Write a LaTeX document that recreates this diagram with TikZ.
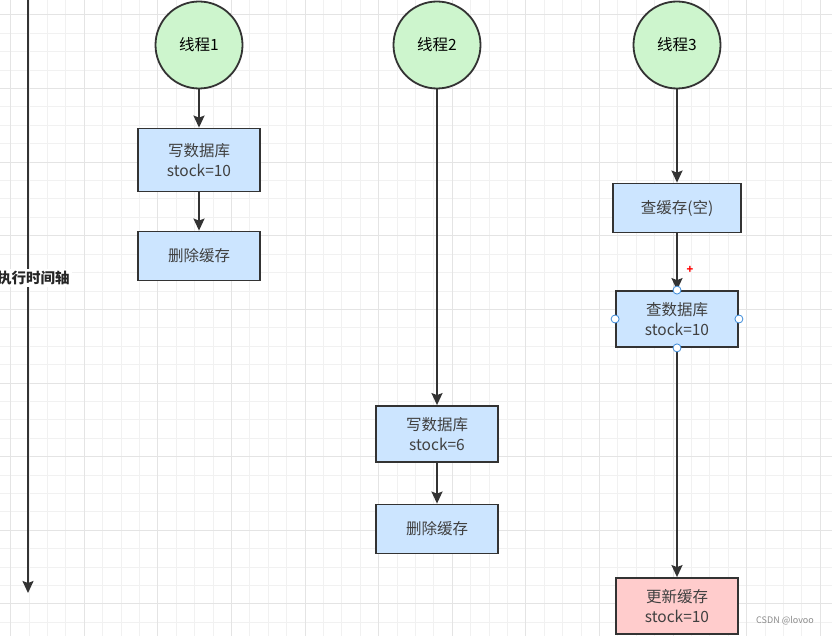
\documentclass[tikz,border=0pt]{standalone}
\usepackage{fontspec}
\setmainfont{Noto Sans CJK SC}
\usetikzlibrary{arrows.meta}
\tikzset{>={Stealth[length=12pt,width=11pt,inset=2pt]}}
\definecolor{lineC}{HTML}{333333}
\definecolor{greenC}{HTML}{CDF5CD}
\definecolor{blueC}{HTML}{CCE5FF}
\definecolor{redC}{HTML}{FFCCCC}
\definecolor{gridC}{HTML}{F1F1F1}
\definecolor{gridM}{HTML}{E4E4E4}
\definecolor{handleC}{HTML}{3D8BD9}
\tikzset{
  thread/.style={circle, draw=lineC, line width=1.8pt, fill=greenC, minimum size=87pt, inner sep=0pt},
  task/.style={rectangle, draw=lineC, line width=1.8pt, fill=blueC, minimum width=122pt, align=center, text=black!75},
  flow/.style={->, draw=lineC, line width=1.8pt},
  handle/.style={circle, draw=handleC, fill=white, line width=0.8pt, minimum size=8pt, inner sep=0pt}
}

\begin{document}
\begin{tikzpicture}[x=1pt,y=-1pt,font=\fontsize{15.5}{20}\selectfont]
\useasboundingbox (0,0) rectangle (832,636);
\clip (0,0) rectangle (832,636);
\fill[white] (0,0) rectangle (832,636);
% grid
\foreach \i in {0,...,45}
  \draw[gridC, line width=1pt] (10.7+18.4*\i,0) -- (10.7+18.4*\i,636);
\foreach \j in {-1,...,34}
  \draw[gridC, line width=1pt] (0,15+18.4*\j) -- (832,15+18.4*\j);
\foreach \i in {0,...,11}
  \draw[gridM, line width=1pt] (10.7+73.6*\i,0) -- (10.7+73.6*\i,636);
\foreach \j in {0,...,8}
  \draw[gridM, line width=1pt] (0,15+73.6*\j) -- (832,15+73.6*\j);

% time axis
\coordinate (axtop) at (28,-5);
\coordinate (axend) at (28,593);
\draw[flow] (axtop) -- (axend);
\node[fill=white, inner sep=2pt, text=black!85, font=\fontsize{14.5}{17}\selectfont\bfseries] (axlabel) at (33.5,278) {执行时间轴};

% thread 1
\node[thread] (t1) at (199,45) {线程1};
\node[task, minimum height=63pt] (w1) at (199,160) {写数据库\\stock=10};
\node[task, minimum height=49pt] (d1) at (199,256) {删除缓存};
\draw[flow] (t1) -- (w1);
\draw[flow] (w1) -- (d1);

% thread 2
\node[thread] (t2) at (437,45) {线程2};
\node[task, minimum height=56pt] (w2) at (437,434) {写数据库\\stock=6};
\node[task, minimum height=49pt] (d2) at (437,529) {删除缓存};
\draw[flow] (t2) -- (w2);
\draw[flow] (w2) -- (d2);

% thread 3
\node[thread] (t3) at (677,45) {线程3};
\node[task, minimum height=49pt, minimum width=128pt] (q1) at (677,208) {查缓存(空)};
\node[task, minimum height=56pt] (q2) at (677,319) {查数据库\\stock=10};
\node[task, minimum height=56pt, fill=redC] (u1) at (677,606) {更新缓存\\stock=10};
\draw[flow] (t3) -- (q1);
\draw[flow] (q1) -- (q2);
\draw[flow] (q2) -- (u1);

% selection handles
\foreach \a in {north,south,east,west}
  \node[handle] at (q2.\a) {};
\node[text=red, font=\fontsize{11}{11}\selectfont\bfseries, inner sep=0pt] (plus) at (690,270) {+};

\node[text=black!45, font=\fontsize{9}{10}\selectfont] (mark) at (785,621) {CSDN @lovoo};
\end{tikzpicture}
\end{document}
